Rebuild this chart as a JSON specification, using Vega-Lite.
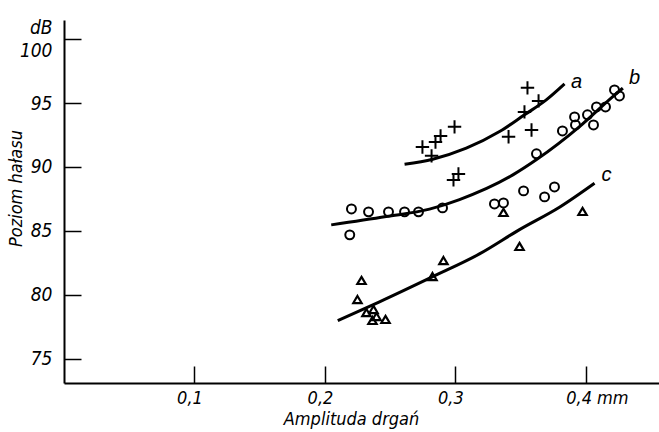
{
  "$schema": "https://vega.github.io/schema/vega-lite/v6.json",
  "width": 595,
  "height": 363,
  "autosize": {"type": "none"},
  "padding": {"left": 64, "top": 20, "right": 0, "bottom": 49},
  "background": "white",
  "config": {"view": {"stroke": null}},
  "datasets": {
    "points": [
      {"s": "a", "x": 0.2747, "y": 91.57}, {"s": "a", "x": 0.2817, "y": 90.87}, {"s": "a", "x": 0.2847, "y": 91.96},
      {"s": "a", "x": 0.2886, "y": 92.43}, {"s": "a", "x": 0.2993, "y": 93.14}, {"s": "a", "x": 0.2985, "y": 88.99},
      {"s": "a", "x": 0.3023, "y": 89.46}, {"s": "a", "x": 0.3407, "y": 92.36}, {"s": "a", "x": 0.3529, "y": 94.31},
      {"s": "a", "x": 0.3552, "y": 96.19}, {"s": "a", "x": 0.3583, "y": 92.90}, {"s": "a", "x": 0.3637, "y": 95.17},
      {"s": "b", "x": 0.2190, "y": 84.69}, {"s": "b", "x": 0.2203, "y": 86.72}, {"s": "b", "x": 0.2334, "y": 86.49},
      {"s": "b", "x": 0.2487, "y": 86.49}, {"s": "b", "x": 0.2610, "y": 86.49}, {"s": "b", "x": 0.2717, "y": 86.49},
      {"s": "b", "x": 0.2901, "y": 86.80}, {"s": "b", "x": 0.3299, "y": 87.11}, {"s": "b", "x": 0.3368, "y": 87.19},
      {"s": "b", "x": 0.3522, "y": 88.13}, {"s": "b", "x": 0.3621, "y": 91.03}, {"s": "b", "x": 0.3683, "y": 87.66},
      {"s": "b", "x": 0.3759, "y": 88.44}, {"s": "b", "x": 0.3820, "y": 92.82}, {"s": "b", "x": 0.3913, "y": 93.92},
      {"s": "b", "x": 0.3920, "y": 93.29}, {"s": "b", "x": 0.4012, "y": 94.08}, {"s": "b", "x": 0.4058, "y": 93.29},
      {"s": "b", "x": 0.4081, "y": 94.70}, {"s": "b", "x": 0.4150, "y": 94.70}, {"s": "b", "x": 0.4219, "y": 96.03},
      {"s": "b", "x": 0.4257, "y": 95.56},
      {"s": "c", "x": 0.2249, "y": 79.60}, {"s": "c", "x": 0.2280, "y": 81.09}, {"s": "c", "x": 0.2318, "y": 78.58},
      {"s": "c", "x": 0.2372, "y": 78.82}, {"s": "c", "x": 0.2364, "y": 77.96}, {"s": "c", "x": 0.2395, "y": 78.27},
      {"s": "c", "x": 0.2464, "y": 78.04}, {"s": "c", "x": 0.2824, "y": 81.40}, {"s": "c", "x": 0.2908, "y": 82.65},
      {"s": "c", "x": 0.3368, "y": 86.41}, {"s": "c", "x": 0.3491, "y": 83.75}, {"s": "c", "x": 0.3974, "y": 86.49}
    ],
    "curves": [
      {"s": "a", "x": 0.2610, "y": 90.22}, {"s": "a", "x": 0.2826, "y": 90.61}, {"s": "a", "x": 0.3083, "y": 91.47},
      {"s": "a", "x": 0.3338, "y": 92.77}, {"s": "a", "x": 0.3529, "y": 94.08}, {"s": "a", "x": 0.3696, "y": 95.25},
      {"s": "a", "x": 0.3836, "y": 96.50},
      {"s": "b", "x": 0.2048, "y": 85.47}, {"s": "b", "x": 0.2469, "y": 86.12}, {"s": "b", "x": 0.2801, "y": 86.70},
      {"s": "b", "x": 0.3031, "y": 87.45}, {"s": "b", "x": 0.3440, "y": 89.38}, {"s": "b", "x": 0.3619, "y": 90.56},
      {"s": "b", "x": 0.3951, "y": 93.16}, {"s": "b", "x": 0.4206, "y": 95.51}, {"s": "b", "x": 0.4283, "y": 96.17},
      {"s": "c", "x": 0.2098, "y": 77.98}, {"s": "c", "x": 0.2418, "y": 79.45}, {"s": "c", "x": 0.2826, "y": 81.42},
      {"s": "c", "x": 0.3184, "y": 83.20}, {"s": "c", "x": 0.3491, "y": 85.10}, {"s": "c", "x": 0.3797, "y": 86.85},
      {"s": "c", "x": 0.4066, "y": 88.73}
    ],
    "labels": [
      {"t": "a", "x": 0.3928, "y": 96.66},
      {"t": "b", "x": 0.4372, "y": 96.97},
      {"t": "c", "x": 0.4158, "y": 89.37}
    ]
  },
  "layer": [
    {
      "data": {"name": "curves"},
      "mark": {"type": "line", "interpolate": "monotone", "strokeWidth": 3, "color": "black"},
      "encoding": {
        "x": {
          "field": "x", "type": "quantitative",
          "scale": {"domain": [0, 0.456], "nice": false, "zero": false},
          "axis": {
            "title": "Amplituda drgań",
            "values": [0.1, 0.2, 0.3, 0.4],
            "format": ".1f",
            "labelExpr": "datum.value == 0.4 ? '0,4 mm' : replace(datum.label, '.', ',')",
            "grid": false,
            "domainColor": "black", "domainWidth": 2,
            "tickColor": "black", "tickWidth": 1.5, "tickSize": -17,
            "labelFont": "DejaVu Sans Condensed, Liberation Sans",
            "labelFontStyle": "italic", "labelFontSize": 18, "labelColor": "black",
            "labelPadding": 23,
            "labelOffset": {"condition": {"test": "datum.value == 0.4", "value": 11}, "value": -5},
            "titleFont": "DejaVu Sans Condensed, Liberation Sans",
            "titleFontStyle": "italic", "titleFontWeight": "normal", "titleFontSize": 18, "titleColor": "black",
            "titleX": 287, "titleY": 36, "titleBaseline": "middle", "titleAnchor": "middle"
          }
        },
        "y": {
          "field": "y", "type": "quantitative",
          "scale": {"domain": [73.1, 101.5], "nice": false, "zero": false},
          "axis": {
            "title": "Poziom hałasu",
            "values": [75, 80, 85, 90, 95, 100],
            "labelExpr": "datum.value == 100 ? ['dB', '100'] : datum.label",
            "labelLineHeight": 23,
            "labelOffset": {"condition": {"test": "datum.value == 100", "value": -11.5}, "value": 0},
            "grid": false,
            "domainColor": "black", "domainWidth": 2,
            "tickColor": "black", "tickWidth": 1.5, "tickSize": -17,
            "labelFont": "DejaVu Sans Condensed, Liberation Sans",
            "labelFontStyle": "italic", "labelFontSize": 19, "labelColor": "black",
            "labelPadding": 29,
            "titleFont": "DejaVu Sans Condensed, Liberation Sans",
            "titleFontStyle": "italic", "titleFontWeight": "normal", "titleFontSize": 18, "titleColor": "black",
            "titleX": -48, "titleY": 168, "titleBaseline": "middle", "titleAnchor": "middle", "titleAngle": -90
          }
        },
        "detail": {"field": "s"}
      }
    },
    {
      "data": {"name": "points"},
      "transform": [{"filter": "datum.s == 'a'"}],
      "mark": {"type": "point", "shape": "M-1,0H1M0,-1V1", "size": 180, "filled": false, "color": "black", "strokeWidth": 2, "opacity": 1},
      "encoding": {
        "x": {"field": "x", "type": "quantitative"},
        "y": {"field": "y", "type": "quantitative"}
      }
    },
    {
      "data": {"name": "points"},
      "transform": [{"filter": "datum.s == 'b'"}],
      "mark": {"type": "point", "shape": "circle", "size": 80, "filled": false, "color": "black", "strokeWidth": 2, "opacity": 1},
      "encoding": {
        "x": {"field": "x", "type": "quantitative"},
        "y": {"field": "y", "type": "quantitative"}
      }
    },
    {
      "data": {"name": "points"},
      "transform": [{"filter": "datum.s == 'c'"}],
      "mark": {"type": "point", "shape": "M0,-0.95L1,0.75L-1,0.75Z", "size": 70, "filled": false, "color": "black", "strokeWidth": 2.2, "opacity": 1},
      "encoding": {
        "x": {"field": "x", "type": "quantitative"},
        "y": {"field": "y", "type": "quantitative"}
      }
    },
    {
      "data": {"name": "labels"},
      "mark": {"type": "text", "fontStyle": "italic", "fontSize": 20, "font": "Liberation Sans", "align": "center", "baseline": "middle", "color": "black"},
      "encoding": {
        "x": {"field": "x", "type": "quantitative"},
        "y": {"field": "y", "type": "quantitative"},
        "text": {"field": "t"}
      }
    }
  ]
}
